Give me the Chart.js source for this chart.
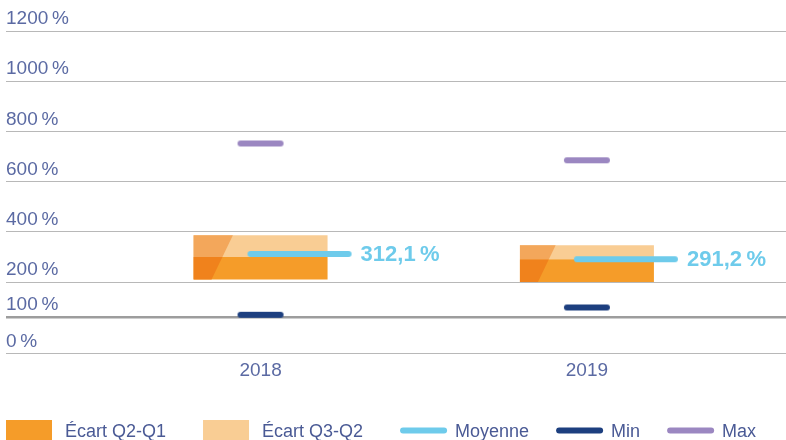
<!DOCTYPE html>
<html><head><meta charset="utf-8">
<script src="https://cdn.jsdelivr.net/npm/chart.js@4"></script>
<style>html,body{margin:0;padding:0;background:#fff}#wrap{width:786px;height:440px}</style>
</head><body><div id="wrap"><canvas id="c" width="786" height="440"></canvas></div>
<script>
// ---- data ----
const years = [2018, 2019];
const seriesLabels = ['Écart Q2-Q1', 'Écart Q3-Q2', 'Moyenne', 'Min', 'Max'];
const q1 = [210, 200];
const q2 = [300, 291];
const q3 = [387, 347];
const meanV = [312.1, 291.2];
const minV = [106, 127];
const maxV = [752, 685];
const yTickValues = [0, 100, 200, 400, 600, 800, 1000, 1200];

// ---- axis layout (relative spacing between successive y ticks) ----
const yBandHeights = [36.4, 34.6, 50, 50, 50, 50, 50];

const FONT = '"Liberation Sans", Arial, Helvetica, sans-serif';
const colors = {
  q1: '#f59c29', q1Dark: '#f0821c',
  q3: '#f9cd94', q3Dark: '#f3a75b',
  mean: '#6ecbeb', min: '#1d3f7f', max: '#9b87c1',
  tick: '#5b6aa3', legend: '#4a5a95'
};
const fmtPct = v => (Number.isInteger(v) ? String(v) : v.toFixed(1).replace('.', ',')) + '\u2009%';

// piecewise linear value axis
const cum = [0];
yBandHeights.forEach(h => cum.push(cum[cum.length - 1] + h));
const total = cum[cum.length - 1];
class PiecewiseScale extends Chart.LinearScale {
  buildTicks() { return yTickValues.map(v => ({ value: v })); }
  _frac(v) {
    const n = yTickValues.length;
    if (v <= yTickValues[0]) return 0;
    for (let i = 0; i < n - 1; i++) {
      const a = yTickValues[i], b = yTickValues[i + 1];
      if (v <= b || i === n - 2) return (cum[i] + (v - a) / (b - a) * (cum[i + 1] - cum[i])) / total;
    }
    return 1;
  }
  getPixelForValue(v) { return this.getPixelForDecimal(this._frac(v)); }
  getValueForPixel(p) {
    const d = this.getDecimalForPixel(p) * total;
    for (let i = 0; i < yTickValues.length - 1; i++) {
      if (d <= cum[i + 1] || i === yTickValues.length - 2) {
        return yTickValues[i] + (d - cum[i]) / (cum[i + 1] - cum[i]) * (yTickValues[i + 1] - yTickValues[i]);
      }
    }
  }
}
PiecewiseScale.id = 'piecewise';
PiecewiseScale.defaults = Object.assign({}, Chart.LinearScale.defaults);
Chart.register(PiecewiseScale);

// marker images (rounded strokes)
function strokeImg(color, w, h, x1, x2, thick) {
  const c = document.createElement('canvas');
  c.width = w; c.height = h;
  const g = c.getContext('2d');
  g.strokeStyle = color; g.lineWidth = thick; g.lineCap = 'round';
  g.beginPath(); g.moveTo(x1, h / 2); g.lineTo(x2, h / 2); g.stroke();
  return c;
}
const minImg = strokeImg(colors.min, 48, 8, 4, 44, 6);
const maxImg = strokeImg(colors.max, 48, 8, 4, 44, 6);
// mean stroke sits slightly right of the category centre
const meanImg = strokeImg(colors.mean, 188, 8, 84, 182, 6);

const pts = arr => years.map((y, i) => ({ x: y, y: arr[i] }));
const bars = (a, b) => years.map((y, i) => ({ x: y, y: [a[i], b[i]] }));

const slantPlugin = {
  id: 'slant',
  afterDatasetDraw(chart, args) {
    if (args.index !== 0) return;
    const m0 = chart.getDatasetMeta(0), m1 = chart.getDatasetMeta(1);
    const ctx = chart.ctx;
    m0.data.forEach((b0, i) => {
      const b1 = m1.data[i];
      const left = b0.x - b0.width / 2;
      const yb = Math.max(b0.base, b0.y);
      [[b0, colors.q1Dark], [b1, colors.q3Dark]].forEach(([b, col]) => {
        const top = Math.min(b.y, b.base), bot = Math.max(b.y, b.base);
        const xAt = y => left + 18 + 0.48 * (yb - y);
        ctx.save();
        ctx.fillStyle = col;
        ctx.beginPath();
        ctx.moveTo(left, top); ctx.lineTo(xAt(top), top);
        ctx.lineTo(xAt(bot), bot); ctx.lineTo(left, bot);
        ctx.closePath(); ctx.fill();
        ctx.restore();
      });
    });
  }
};

const meanLabelPlugin = {
  id: 'meanLabel',
  afterDatasetsDraw(chart) {
    const meta = chart.getDatasetMeta(2);
    const ctx = chart.ctx;
    ctx.save();
    ctx.font = 'bold 22px ' + FONT;
    ctx.fillStyle = colors.mean;
    ctx.textBaseline = 'middle';
    ctx.textAlign = 'left';
    meta.data.forEach((p, i) => ctx.fillText(fmtPct(meanV[i]), p.x + 100, p.y + 1));
    ctx.restore();
  }
};

const legendPlugin = {
  id: 'customLegend',
  afterDraw(chart) {
    const ctx = chart.ctx;
    const items = [
      { kind: 'rect', color: colors.q1 }, { kind: 'rect', color: colors.q3 },
      { kind: 'line', color: colors.mean }, { kind: 'line', color: colors.min }, { kind: 'line', color: colors.max }
    ];
    ctx.save();
    ctx.font = '18px ' + FONT;
    ctx.textBaseline = 'middle';
    const cy = 431;
    let x = 6;
    items.forEach((it, i) => {
      const text = chart.data.datasets[i].label;
      if (it.kind === 'rect') {
        ctx.fillStyle = it.color;
        ctx.fillRect(x, cy - 11, 46, 22);
        x += 46 + 13;
      } else {
        ctx.strokeStyle = it.color; ctx.lineWidth = 6; ctx.lineCap = 'round';
        ctx.beginPath(); ctx.moveTo(x + 3, cy - 0.5); ctx.lineTo(x + 44, cy - 0.5); ctx.stroke();
        x += 47 + 8;
      }
      ctx.fillStyle = colors.legend;
      ctx.fillText(text, x, cy + 1);
      x += ctx.measureText(text).width + (it.kind === 'rect' ? 37 : 27);
    });
    ctx.restore();
  }
};

new Chart(document.getElementById('c'), {
  type: 'bar',
  data: {
    datasets: [
      { label: seriesLabels[0], data: bars(q1, q2), backgroundColor: colors.q1, grouped: false, maxBarThickness: 134, barPercentage: 1, order: 3 },
      { label: seriesLabels[1], data: bars(q2, q3), backgroundColor: colors.q3, grouped: false, maxBarThickness: 134, barPercentage: 1, order: 3 },
      { type: 'line', label: seriesLabels[2], data: pts(meanV), showLine: false, pointStyle: meanImg, pointRadius: 1, order: 1 },
      { type: 'line', label: seriesLabels[3], data: pts(minV), showLine: false, pointStyle: minImg, pointRadius: 1, order: 1 },
      { type: 'line', label: seriesLabels[4], data: pts(maxV), showLine: false, pointStyle: maxImg, pointRadius: 1, order: 1 }
    ]
  },
  options: {
    responsive: false,
    animation: false,
    events: [],
    layout: { autoPadding: false, padding: { left: 6, right: 0, top: 31, bottom: 51.8 } },
    plugins: { legend: { display: false }, tooltip: { enabled: false } },
    scales: {
      x: {
        type: 'linear',
        offset: false,
        min: 2017.22, max: 2019.61,
        afterBuildTicks: s => { s.ticks = years.map(v => ({ value: v })); },
        grid: { display: false, drawTicks: false },
        border: { display: false },
        ticks: { callback: v => String(v), color: colors.tick, font: { family: FONT, size: 19 }, padding: 6, maxRotation: 0 }
      },
      y: {
        type: 'piecewise',
        position: 'left',
        min: 0, max: 1200,
        grid: {
          drawTicks: false,
          color: c => (c.tick && c.tick.value === 100) ? '#9d9d9d' : '#b8b8b8',
          lineWidth: c => (c.tick && c.tick.value === 100) ? 2.5 : 1
        },
        border: { display: false },
        ticks: {
          mirror: true, padding: 0, labelOffset: -12, autoSkip: false,
          color: colors.tick, font: { family: FONT, size: 19 },
          callback: v => fmtPct(v)
        }
      }
    }
  },
  plugins: [slantPlugin, meanLabelPlugin, legendPlugin]
});
</script></body></html>
